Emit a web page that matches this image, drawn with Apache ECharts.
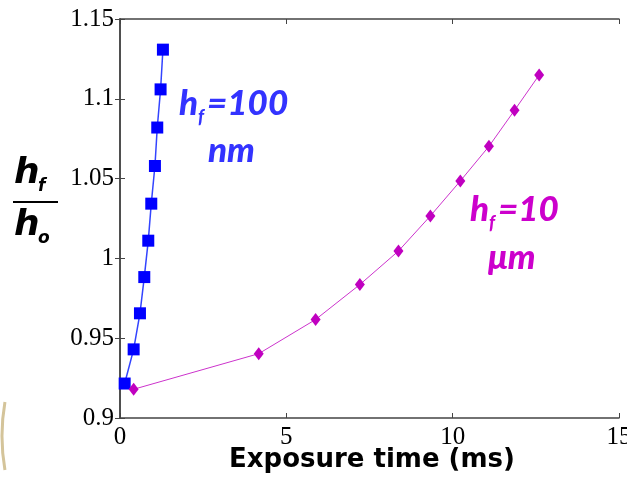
<!DOCTYPE html>
<html>
<head>
<meta charset="utf-8">
<script src="https://cdn.jsdelivr.net/npm/echarts@6/dist/echarts.min.js"></script>
<style>
  html, body { margin: 0; padding: 0; background: #fff; }
  #chart { width: 627px; height: 478px; }
</style>
</head>
<body>
<div id="chart"></div>
<script>
// h_f = 100 nm series
var thinX = [0.14, 0.41, 0.60, 0.73, 0.85, 0.94, 1.05, 1.12, 1.22, 1.29];
var thinY = [0.9216, 0.943, 0.9656, 0.9883, 1.0111, 1.0343, 1.0579, 1.082, 1.1059, 1.1308];
// h_f = 10 um series
var thickX = [0.41, 4.17, 5.88, 7.21, 8.37, 9.33, 10.23, 11.09, 11.86, 12.60];
var thickY = [0.918, 0.9403, 0.9617, 0.9836, 1.0046, 1.0266, 1.0485, 1.0702, 1.0928, 1.1149];

var xTicks = [0, 5, 10, 15];
var yTicks = [0.9, 0.95, 1, 1.05, 1.1, 1.15];

function pairs(xs, ys) {
    var out = [];
    for (var i = 0; i < xs.length; i++) out.push([xs[i], ys[i]]);
    return out;
}

var frame = '#444';
var tickFont = { fontFamily: 'Liberation Serif', fontSize: 25, color: '#000' };
var blue = '#3333ff', magenta = '#cc00cc';
var big = 'italic 900 35px Lato', sub = 'italic 900 18px Lato';

var myChart = echarts.init(document.getElementById('chart'), null, { renderer: 'canvas' });

var option = {
    animation: false,
    grid: { left: 120, right: 8, top: 19, bottom: 60, containLabel: false, outerBoundsMode: 'none' },
    xAxis: [{
        type: 'value', min: xTicks[0], max: xTicks[xTicks.length - 1], interval: 5,
        axisLine: { lineStyle: { color: frame, width: 1.5 } },
        axisTick: { inside: true, length: 5, lineStyle: { color: frame } },
        axisLabel: Object.assign({ margin: 7, hideOverlap: false }, tickFont),
        splitLine: { show: false }
    }, {
        type: 'value', position: 'top', min: 0, max: 15, interval: 5,
        axisLine: { lineStyle: { color: frame, width: 1.5 } },
        axisTick: { inside: true, length: 5, lineStyle: { color: frame } },
        axisLabel: { show: false },
        splitLine: { show: false }
    }],
    yAxis: [{
        type: 'value', min: yTicks[0], max: yTicks[yTicks.length - 1], interval: 0.05,
        axisLine: { lineStyle: { color: frame, width: 1.5 } },
        axisTick: { inside: true, length: 5, lineStyle: { color: frame } },
        axisLabel: Object.assign({ margin: 6 }, tickFont),
        splitLine: { show: false }
    }, {
        type: 'value', position: 'right', min: 0.9, max: 1.15, interval: 0.05,
        axisLine: { lineStyle: { color: frame, width: 1.5 } },
        axisTick: { inside: true, length: 5, lineStyle: { color: frame } },
        axisLabel: { show: false },
        splitLine: { show: false }
    }],
    series: [{
        name: 'hf=100nm', type: 'line',
        data: pairs(thinX, thinY),
        symbol: 'rect', symbolSize: 12,
        itemStyle: { color: '#0000ff' },
        lineStyle: { color: '#3344ff', width: 1.5 }
    }, {
        name: 'hf=10um', type: 'line',
        data: pairs(thickX, thickY),
        symbol: 'diamond', symbolSize: [10, 13],
        itemStyle: { color: '#c000c0' },
        lineStyle: { color: '#cc33cc', width: 1 }
    }],
    graphic: [
        // y axis title: h_f / h_o
        { type: 'text', left: 14, top: 156, style: { text: 'h', font: 'italic bold 36px "DejaVu Sans"', fill: '#000' } },
        { type: 'text', left: 38, top: 178, style: { text: 'f', font: 'italic bold 17px "DejaVu Sans"', fill: '#000' } },
        { type: 'rect', shape: { x: 13, y: 201, width: 45, height: 2 }, style: { fill: '#000' } },
        { type: 'text', left: 14, top: 208, style: { text: 'h', font: 'italic bold 36px "DejaVu Sans"', fill: '#000' } },
        { type: 'text', left: 38, top: 230, style: { text: 'o', font: 'italic bold 17px "DejaVu Sans"', fill: '#000' } },
        // x axis title
        { type: 'text', left: 229, top: 447, style: { text: 'Exposure time (ms)', font: 'bold 26px "DejaVu Sans"', fill: '#000' } },
        // series labels
        { type: 'text', left: 179, top: 86, style: { text: 'h', font: big, fill: blue } },
        { type: 'text', left: 198, top: 108, style: { text: 'f', font: sub, fill: blue } },
        { type: 'text', left: 207, top: 86, style: { text: '=100', font: big, fill: blue } },
        { type: 'text', left: 208, top: 133, style: { text: 'nm', font: big, fill: blue } },
        { type: 'text', left: 470, top: 192, style: { text: 'h', font: big, fill: magenta } },
        { type: 'text', left: 489, top: 214, style: { text: 'f', font: sub, fill: magenta } },
        { type: 'text', left: 498, top: 192, style: { text: '=10', font: big, fill: magenta } },
        { type: 'text', left: 488, top: 240, style: { text: 'μm', font: big, fill: magenta } },
        // decorative arc at lower-left edge
        { type: 'arc', shape: { cx: 200, cy: 436, r: 198, startAngle: Math.PI * 0.945, endAngle: Math.PI * 1.055 },
          style: { stroke: '#d4c49a', lineWidth: 3, fill: null } }
    ]
};

myChart.setOption(option);
</script>
</body>
</html>
